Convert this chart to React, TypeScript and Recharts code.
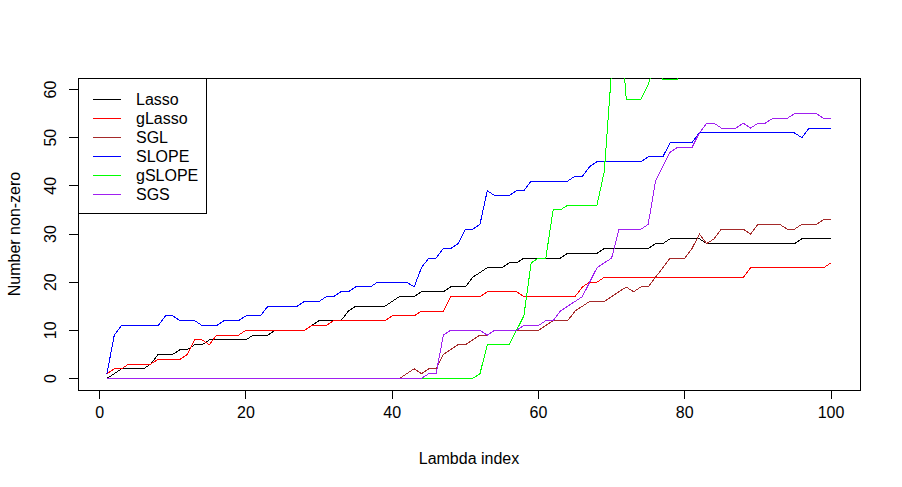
import { LineChart, Line, XAxis, YAxis, Legend, ReferenceArea, Label } from "recharts"

const FONT = "'Liberation Sans', Arial, sans-serif"

// lambda index 1..100
const lambdaIndex = Array.from({ length: 100 }, (_, i) => i + 1)

const lasso = [
  0, 1, 2, 2, 2, 2, 3, 5, 5, 5,
  6, 6, 7, 7, 8, 8, 8, 8, 8, 8,
  9, 9, 9, 10, 10, 10, 10, 10, 11, 12,
  12, 12, 12, 14, 15, 15, 15, 15, 15, 16,
  17, 17, 17, 18, 18, 18, 18, 19, 19, 19,
  21, 22, 23, 23, 23, 24, 24, 25, 25, 25,
  25, 25, 25, 26, 26, 26, 26, 26, 27, 27,
  27, 27, 27, 27, 27, 28, 28, 29, 29, 29,
  29, 29, 28, 28, 28, 28, 28, 28, 28, 28,
  28, 28, 28, 28, 28, 29, 29, 29, 29, 29,
]

const gLasso = [
  1, 2, 2, 3, 3, 3, 3, 4, 4, 4,
  4, 5, 8, 8, 7, 9, 9, 9, 9, 10,
  10, 10, 10, 10, 10, 10, 10, 10, 11, 11,
  11, 12, 12, 12, 12, 12, 12, 12, 12, 13,
  13, 13, 13, 14, 14, 14, 14, 17, 17, 17,
  17, 17, 18, 18, 18, 18, 18, 17, 17, 17,
  17, 17, 17, 17, 17, 19, 20, 20, 21, 21,
  21, 21, 21, 21, 21, 21, 21, 21, 21, 21,
  21, 21, 21, 21, 21, 21, 21, 21, 23, 23,
  23, 23, 23, 23, 23, 23, 23, 23, 23, 24,
]

const sgl = [
  0, 0, 0, 0, 0, 0, 0, 0, 0, 0,
  0, 0, 0, 0, 0, 0, 0, 0, 0, 0,
  0, 0, 0, 0, 0, 0, 0, 0, 0, 0,
  0, 0, 0, 0, 0, 0, 0, 0, 0, 0,
  0, 1, 2, 1, 2, 2, 5, 6, 7, 7,
  8, 9, 9, 10, 10, 10, 10, 10, 10, 10,
  11, 12, 12, 12, 14, 15, 16, 16, 16, 17,
  18, 19, 18, 19, 19, 21, 23, 25, 25, 25,
  27, 30, 28, 29, 31, 31, 31, 31, 30, 32,
  32, 32, 32, 31, 31, 32, 32, 32, 33, 33,
]

const slope = [
  1, 9, 11, 11, 11, 11, 11, 11, 13, 13,
  12, 12, 12, 11, 11, 11, 12, 12, 12, 13,
  13, 13, 15, 15, 15, 15, 15, 16, 16, 16,
  17, 17, 18, 18, 19, 19, 19, 20, 20, 20,
  20, 20, 19, 23, 25, 25, 27, 27, 28, 31,
  31, 32, 39, 38, 38, 38, 39, 39, 41, 41,
  41, 41, 41, 41, 42, 42, 44, 45, 45, 45,
  45, 45, 45, 45, 46, 46, 46, 49, 49, 49,
  49, 51, 51, 51, 51, 51, 51, 51, 51, 51,
  51, 51, 51, 51, 51, 50, 52, 52, 52, 52,
]

// values above ~62 run off the top of the plot
const gSlope = [
  0, 0, 0, 0, 0, 0, 0, 0, 0, 0,
  0, 0, 0, 0, 0, 0, 0, 0, 0, 0,
  0, 0, 0, 0, 0, 0, 0, 0, 0, 0,
  0, 0, 0, 0, 0, 0, 0, 0, 0, 0,
  0, 0, 0, 0, 0, 0, 0, 0, 0, 0,
  0, 1, 7, 7, 7, 7, 10, 13, 24, 25,
  25, 35, 35, 36, 36, 36, 36, 36, 43, 64,
  78, 58, 58, 58, 61, 66, 62, 62, 62, 70,
  71, 72, 72, 73, 74, 74, 75, 76, 76, 77,
  78, 78, 79, 80, 80, 81, 81, 82, 83, 83,
]

const sgs = [
  0, 0, 0, 0, 0, 0, 0, 0, 0, 0,
  0, 0, 0, 0, 0, 0, 0, 0, 0, 0,
  0, 0, 0, 0, 0, 0, 0, 0, 0, 0,
  0, 0, 0, 0, 0, 0, 0, 0, 0, 0,
  0, 0, 0, 0, 1, 1, 9, 10, 10, 10,
  10, 10, 9, 10, 10, 10, 10, 11, 11, 11,
  12, 12, 14, 15, 16, 17, 20, 23, 24, 25,
  31, 31, 31, 31, 32, 41, 44, 47, 48, 48,
  48, 51, 53, 53, 52, 52, 52, 53, 52, 53,
  53, 54, 54, 54, 55, 55, 55, 55, 54, 54,
]

const SERIES = [
  { key: "lasso", name: "Lasso", color: "#000000", values: lasso },
  { key: "gLasso", name: "gLasso", color: "#FF0000", values: gLasso },
  { key: "sgl", name: "SGL", color: "#A52A2A", values: sgl },
  { key: "slope", name: "SLOPE", color: "#0000FF", values: slope },
  { key: "gSlope", name: "gSLOPE", color: "#00FF00", values: gSlope },
  { key: "sgs", name: "SGS", color: "#A020F0", values: sgs },
]

const X_TICKS = [0, 20, 40, 60, 80, 100]
const Y_TICKS = [0, 10, 20, 30, 40, 50, 60]
const X_DOMAIN = [-2.96, 103.96]
const Y_DOMAIN = [-2.4, 62.4]

const chartData = lambdaIndex.map((idx, i) => {
  const row: Record<string, number> = { idx }
  for (const s of SERIES) row[s.key] = s.values[i]
  return row
})

function YTick({ x, y, payload }: any) {
  const bx = x - 11
  return (
    <text
      x={bx}
      y={y}
      transform={`rotate(-90 ${bx} ${y})`}
      textAnchor="middle"
      fontSize={16}
      fontFamily={FONT}
      fill="#000"
    >
      {payload.value}
    </text>
  )
}

function LegendBox() {
  return (
    <svg width={130} height={137} style={{ display: "block" }} shapeRendering="crispEdges">
      <rect x={0.5} y={0.5} width={128} height={135} fill="none" stroke="#000" />
      {SERIES.map((s, k) => {
        const cy = 21.7 + k * 18.9
        return (
          <g key={s.key}>
            <line x1={15} x2={43} y1={cy} y2={cy} stroke={s.color} strokeWidth={1} />
            <text x={58} y={cy + 5.7} fontSize={16} fontFamily={FONT} fill="#000">
              {s.name}
            </text>
          </g>
        )
      })}
    </svg>
  )
}

export default function App() {
  return (
    <div style={{ position: "absolute", left: 0, top: 0, background: "#fff" }}>
      <LineChart
        width={902}
        height={487}
        data={chartData}
        margin={{ top: 78, right: 42, bottom: 0, left: 0 }}
      >
        <XAxis
          dataKey="idx"
          type="number"
          domain={X_DOMAIN}
          ticks={X_TICKS}
          allowDataOverflow
          axisLine={false}
          tickLine={{ stroke: "#000", shapeRendering: "crispEdges" }}
          tickSize={9}
          tickMargin={8}
          height={97}
          tick={{ fill: "#000", fontSize: 16, fontFamily: FONT }}
        >
          <Label
            content={({ viewBox }: any) => (
              <text
                x={viewBox.x + viewBox.width / 2}
                y={viewBox.y + 74}
                textAnchor="middle"
                fontSize={16}
                fontFamily={FONT}
                fill="#000"
              >
                Lambda index
              </text>
            )}
          />
        </XAxis>
        <YAxis
          type="number"
          domain={Y_DOMAIN}
          ticks={Y_TICKS}
          allowDataOverflow
          width={78}
          axisLine={false}
          tickLine={{ stroke: "#000", shapeRendering: "crispEdges" }}
          tickSize={9}
          tick={<YTick />}
        >
          <Label
            content={({ viewBox }: any) => {
              const lx = viewBox.x + 20
              const ly = viewBox.y + viewBox.height / 2
              return (
                <text
                  x={lx}
                  y={ly}
                  transform={`rotate(-90 ${lx} ${ly})`}
                  textAnchor="middle"
                  fontSize={16}
                  fontFamily={FONT}
                  fill="#000"
                >
                  Number non-zero
                </text>
              )
            }}
          />
        </YAxis>
        {SERIES.map((s) => (
          <Line
            key={s.key}
            type="linear"
            dataKey={s.key}
            name={s.name}
            stroke={s.color}
            strokeWidth={1}
            shapeRendering="crispEdges"
            dot={false}
            activeDot={false}
            isAnimationActive={false}
          />
        ))}
        <ReferenceArea
          x1={X_DOMAIN[0]}
          x2={X_DOMAIN[1]}
          y1={Y_DOMAIN[0]}
          y2={Y_DOMAIN[1]}
          fill="none"
          stroke="#000"
          strokeWidth={1}
          shapeRendering="crispEdges"
        />
        <Legend
          layout="vertical"
          align="center"
          verticalAlign="middle"
          content={<LegendBox />}
          wrapperStyle={{ left: 78, top: 78, width: 130, height: 137 }}
        />
      </LineChart>
    </div>
  )
}
